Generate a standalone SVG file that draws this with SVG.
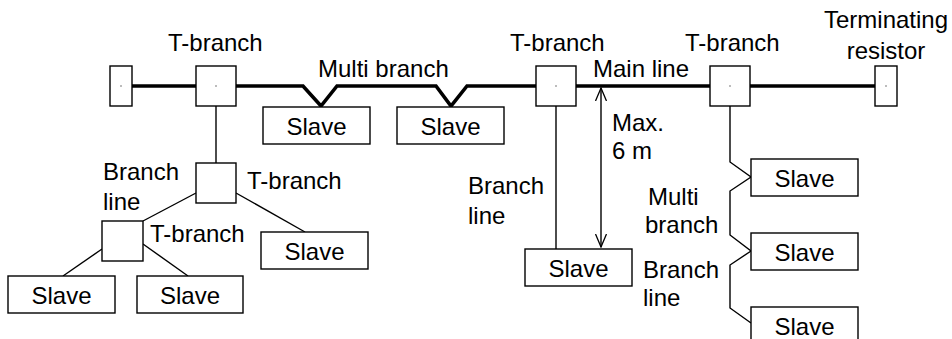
<svg xmlns="http://www.w3.org/2000/svg" width="952" height="339" viewBox="0 0 952 339">
<style>
text{font-family:"Liberation Sans",Arial,sans-serif;font-size:24px;fill:#000}
.c{text-anchor:middle}
.box{fill:#fff;stroke:#000;stroke-width:1.4}
.thin{fill:none;stroke:#000;stroke-width:1.4}
.main{fill:none;stroke:#000;stroke-width:3.6;stroke-linejoin:miter}
.dot{fill:#666}
</style>
<defs>
<marker id="arr" markerUnits="userSpaceOnUse" viewBox="0 0 14 12" refX="13" refY="6" markerWidth="14" markerHeight="12" orient="auto-start-reverse">
<path d="M0,0.5 L13,6 L0,11.5" fill="none" stroke="#000" stroke-width="1.3"/>
</marker>
</defs>
<rect width="952" height="339" fill="#fff"/>
<g id="connectors">
<path class="main" d="M132,86 H196 M236,86 H303 L321,106 L337,86 H436 L451,106 L467,86 H536 M576,86 H710 M750,86 H875"/>
<path class="thin" d="M216,106 V163"/>
<path class="thin" d="M196,193 L143,221"/>
<path class="thin" d="M236,193 L305,232"/>
<path class="thin" d="M102,249 L63,276"/>
<path class="thin" d="M143,244 L188,276"/>
<path class="thin" d="M556,106 V249"/>
<path class="thin" d="M730,106 V162 L751,177 L730,191 V235 L751,251 L730,265 V308 L751,323"/>
<path class="thin" d="M601,88 V247" marker-start="url(#arr)" marker-end="url(#arr)"/>
</g>
<g id="term-left"><rect class="box" x="110" y="66" width="22" height="40"/><circle class="dot" cx="121" cy="86" r="0.8"/></g>
<g id="tbranch1"><rect class="box" x="196" y="66" width="40" height="40"/><circle class="dot" cx="216" cy="86" r="0.8"/><text x="168" y="51">T-branch</text></g>
<g id="tbranch2"><rect class="box" x="536" y="66" width="40" height="40"/><circle class="dot" cx="556" cy="86" r="0.8"/><text x="510" y="51">T-branch</text></g>
<g id="tbranch3"><rect class="box" x="710" y="66" width="40" height="40"/><circle class="dot" cx="730" cy="86" r="0.8"/><text x="685" y="51">T-branch</text></g>
<g id="term-right"><rect class="box" x="875" y="66" width="22" height="40"/><circle class="dot" cx="886" cy="86" r="0.8"/><text class="c" x="886" y="28">Terminating</text><text class="c" x="886" y="59">resistor</text></g>
<g id="tbranch4"><rect class="box" x="196" y="163" width="40" height="40"/><text x="247" y="189">T-branch</text></g>
<g id="tbranch5"><rect class="box" x="102" y="221" width="41" height="40"/><text x="150" y="242">T-branch</text></g>
<g id="slave1"><rect class="box" x="263" y="107" width="107" height="37"/><text class="c" x="316.5" y="135">Slave</text></g>
<g id="slave2"><rect class="box" x="397" y="107" width="107" height="37"/><text class="c" x="450.5" y="135">Slave</text></g>
<g id="slave3"><rect class="box" x="525" y="249" width="107" height="37"/><text class="c" x="578.5" y="277">Slave</text></g>
<g id="slave4"><rect class="box" x="751" y="159" width="107" height="37"/><text class="c" x="804.5" y="187">Slave</text></g>
<g id="slave5"><rect class="box" x="751" y="233" width="107" height="37"/><text class="c" x="804.5" y="261">Slave</text></g>
<g id="slave6"><rect class="box" x="751" y="307" width="107" height="40"/><text class="c" x="804.5" y="335">Slave</text></g>
<g id="slave7"><rect class="box" x="261" y="232" width="107" height="37"/><text class="c" x="314.5" y="260">Slave</text></g>
<g id="slave8"><rect class="box" x="8" y="276" width="107" height="37"/><text class="c" x="61.5" y="304">Slave</text></g>
<g id="slave9"><rect class="box" x="137" y="276" width="106" height="37"/><text class="c" x="190" y="304">Slave</text></g>
<g id="labels">
<text x="318" y="77">Multi branch</text>
<text x="593" y="77">Main line</text>
<text x="612" y="131">Max.</text>
<text x="612" y="159">6 m</text>
<text x="468" y="194">Branch</text>
<text x="468" y="224">line</text>
<text x="103" y="180">Branch</text>
<text x="103" y="210">line</text>
<text x="648" y="205">Multi</text>
<text x="645" y="233">branch</text>
<text x="643" y="278">Branch</text>
<text x="643" y="306">line</text>
</g>
</svg>
